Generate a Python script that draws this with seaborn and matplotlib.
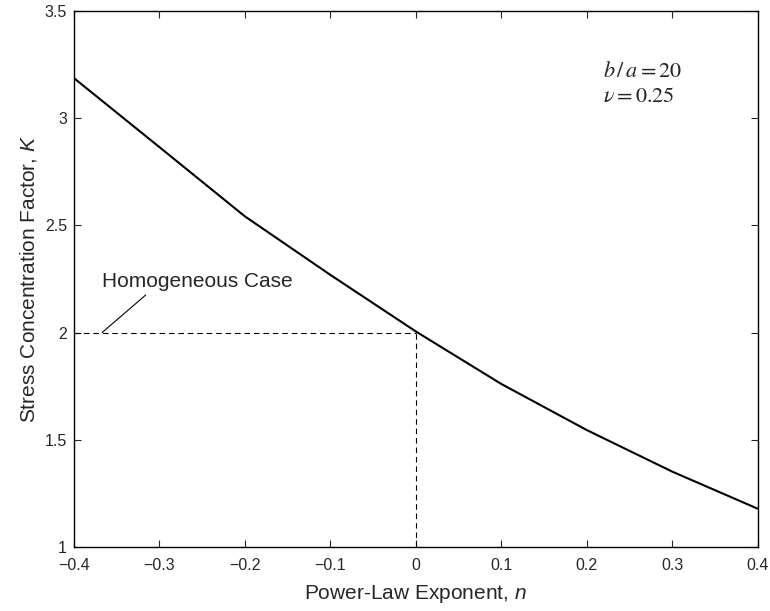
import matplotlib
matplotlib.use("Agg")
import matplotlib.pyplot as plt
import seaborn as sns
import pandas as pd

# values
n_exp = [-0.4, -0.3, -0.2, -0.1, 0.0, 0.1, 0.2, 0.3, 0.4]
K_fac = [3.187, 2.865, 2.542, 2.269, 2.005, 1.760, 1.545, 1.351, 1.178]

x_ticks = [-0.4, -0.3, -0.2, -0.1, 0, 0.1, 0.2, 0.3, 0.4]
x_tick_labels = ["\u22120.4", "\u22120.3", "\u22120.2", "\u22120.1", "0", "0.1", "0.2", "0.3", "0.4"]
y_ticks = [1, 1.5, 2, 2.5, 3, 3.5]
y_tick_labels = ["1", "1.5", "2", "2.5", "3", "3.5"]

df = pd.DataFrame({"n": n_exp, "K": K_fac})

sns.set_style("ticks")
plt.rcParams['font.family'] = ['Liberation Sans', 'DejaVu Sans']
plt.rcParams['mathtext.fontset'] = 'custom'
plt.rcParams['mathtext.rm'] = 'Liberation Sans'
plt.rcParams['mathtext.it'] = 'Liberation Sans:italic'

fig = plt.figure(figsize=(7.70, 6.11), dpi=100)
ax = fig.add_axes([0.096, 0.105, 0.888, 0.877])

sns.lineplot(data=df, x="n", y="K", ax=ax, color="black", linewidth=1.5)

# homogeneous case reference lines
ax.plot([-0.4, 0], [2, 2], color="black", lw=0.8, dashes=(5, 3.5))
ax.plot([0, 0], [1, 2], color="black", lw=0.8, dashes=(5, 3.5))
ax.plot([-0.316, -0.367], [2.175, 2.0], color="black", lw=0.8)
ax.text(-0.367, 2.213, "Homogeneous Case", fontsize=15, ha="left", va="baseline")

ax.text(0.219, 3.19, r"$b\,/\,a = 20$", fontsize=16, math_fontfamily="stix", va="baseline")
ax.text(0.219, 3.075, r"$\nu = 0.25$", fontsize=16, math_fontfamily="stix", va="baseline")

ax.set_xlim(-0.4, 0.4)
ax.set_ylim(1, 3.5)
ax.set_xticks(x_ticks)
ax.set_xticklabels(x_tick_labels)
ax.set_yticks(y_ticks)
ax.set_yticklabels(y_tick_labels)
ax.tick_params(direction="in", length=5, width=0.8, top=True, right=True, labelsize=11.5)
ax.tick_params(axis="x", pad=8)
ax.tick_params(axis="y", pad=5)
for s in ax.spines.values():
    s.set_linewidth(1.0)
    s.set_color("black")

ax.set_xlabel(r"Power-Law Exponent, $\mathit{n}$", fontsize=15, labelpad=7)
ax.set_ylabel(r"Stress Concentration Factor, $\mathit{K}$", fontsize=15, labelpad=4)

fig.savefig("out.png", dpi=100)
